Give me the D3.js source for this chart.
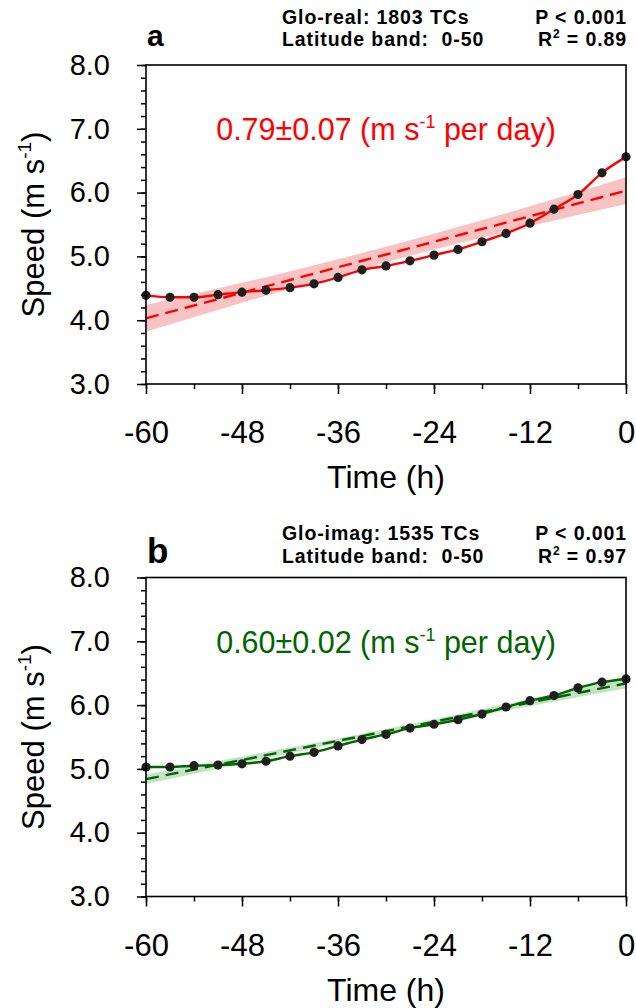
<!DOCTYPE html>
<html>
<head>
<meta charset="utf-8">
<script src="https://cdn.jsdelivr.net/npm/d3@7/dist/d3.min.js"></script>
<style>
  body { margin: 0; background: #fff; }
  svg { display: block; font-family: "Liberation Sans", Arial, Helvetica, sans-serif; }
  .hdr { font-weight: bold; font-size: 19.5px; letter-spacing: 0.9px; white-space: pre; }
</style>
</head>
<body>
<svg id="chart" width="636" height="1008"></svg>
<script>
// TC translation speed before landfall, two panels (real vs imaginary tracks)

const hours = [-60, -57, -54, -51, -48, -45, -42, -39, -36, -33, -30, -27, -24, -21, -18, -15, -12, -9, -6, -3, 0];
const realSpeed = [4.39, 4.36, 4.36, 4.40, 4.44, 4.47, 4.51, 4.57, 4.67, 4.79, 4.85, 4.93, 5.02, 5.11, 5.23, 5.36, 5.52, 5.74, 5.97, 6.31, 6.56];
const imagSpeed = [5.03, 5.03, 5.05, 5.06, 5.08, 5.12, 5.20, 5.26, 5.36, 5.46, 5.54, 5.64, 5.70, 5.77, 5.86, 5.97, 6.07, 6.15, 6.27, 6.36, 6.41];

// linear fit and its confidence band
const fitHours = [-60, -45, -30, -15, 0];
const realFit = [4.03, 4.53, 5.03, 5.53, 6.03];
const realFitLow = [3.82, 4.385, 4.91, 5.385, 5.82];
const realFitHigh = [4.24, 4.675, 5.15, 5.675, 6.24];
const imagFit = [4.84, 5.215, 5.59, 5.965, 6.34];
const imagFitLow = [4.765, 5.165, 5.555, 5.915, 6.265];
const imagFitHigh = [4.915, 5.265, 5.625, 6.015, 6.415];

const xTicks = [-60, -48, -36, -24, -12, 0];
const yTicks = [3, 4, 5, 6, 7, 8];

const panels = [
  {
    letter: 'a', letterSize: 30, top: 65, hdr1: 24, hdr2: 46,
    name: 'Glo-real: 1803 TCs', band: 'Latitude band:  0-50', p: 'P < 0.001', r2: '0.89',
    trend: '0.79\u00b10.07', speed: realSpeed, fit: realFit, low: realFitLow, high: realFitHigh,
    line: '#ff0000', fill: '#f9c3c3'
  },
  {
    letter: 'b', letterSize: 35, top: 577.5, hdr1: 540, hdr2: 563,
    name: 'Glo-imag: 1535 TCs', band: 'Latitude band:  0-50', p: 'P < 0.001', r2: '0.97',
    trend: '0.60\u00b10.02', speed: imagSpeed, fit: imagFit, low: imagFitLow, high: imagFitHigh,
    line: '#006400', fill: '#c4e3c4'
  }
];

const svg = d3.select('#chart');
const left = 146, right = 626, height = 319;

const x = d3.scaleLinear().domain([-60, 0]).range([left, right]);

panels.forEach(p => {
  const y = d3.scaleLinear().domain([3, 8]).range([p.top + height, p.top]);
  const g = svg.append('g');

  // confidence band
  g.append('path')
    .datum(fitHours.map((h, i) => ({ h, lo: p.low[i], hi: p.high[i] })))
    .attr('fill', p.fill)
    .attr('d', d3.area().curve(d3.curveMonotoneX)
      .x(d => x(d.h)).y0(d => y(d.lo)).y1(d => y(d.hi)));

  // regression line
  g.append('path')
    .datum(fitHours.map((h, i) => ({ h, v: p.fit[i] })))
    .attr('fill', 'none')
    .attr('stroke', p.line)
    .attr('stroke-width', 2.4)
    .attr('stroke-dasharray', '13,7')
    .attr('d', d3.line().x(d => x(d.h)).y(d => y(d.v)));

  // observed mean speed
  const pts = hours.map((h, i) => ({ h, v: p.speed[i] }));
  g.append('path')
    .datum(pts)
    .attr('fill', 'none')
    .attr('stroke', p.line)
    .attr('stroke-width', 2.4)
    .attr('d', d3.line().curve(d3.curveMonotoneX).x(d => x(d.h)).y(d => y(d.v)));

  g.selectAll('circle.pt')
    .data(pts)
    .enter().append('circle')
    .attr('class', 'pt')
    .attr('cx', d => x(d.h))
    .attr('cy', d => y(d.v))
    .attr('r', 4.6)
    .attr('fill', '#1e1e1e');

  // axes
  const yAxis = g.append('g')
    .attr('transform', `translate(${left},0)`)
    .call(d3.axisLeft(y).tickValues(yTicks).tickSize(9).tickPadding(27).tickFormat(d3.format('.1f')));
  g.append('g')
    .attr('transform', `translate(${left},0)`)
    .call(d3.axisLeft(y).tickValues(d3.range(3, 8.01, 0.2)).tickSize(5).tickFormat(''));
  const xAxis = g.append('g')
    .attr('transform', `translate(0,${p.top + height})`)
    .call(d3.axisBottom(x).tickValues(xTicks).tickSize(10).tickPadding(27).tickFormat(d => String(d)));
  g.append('g')
    .attr('transform', `translate(0,${p.top + height})`)
    .call(d3.axisBottom(x).tickValues(d3.range(-60, 0.1, 6)).tickSize(5).tickFormat(''));

  g.selectAll('.domain').remove();
  g.selectAll('.tick line').attr('stroke', '#000').attr('stroke-width', 1.5);
  yAxis.selectAll('text').attr('font-size', 29).attr('fill', '#000');
  xAxis.selectAll('text').attr('font-size', 31).attr('fill', '#000');

  g.append('rect')
    .attr('x', left).attr('y', p.top)
    .attr('width', right - left).attr('height', height)
    .attr('fill', 'none').attr('stroke', '#000').attr('stroke-width', 1.6);

  // axis titles
  const yl = g.append('text')
    .attr('transform', `translate(43.5,${p.top + height / 2}) rotate(-90)`)
    .attr('text-anchor', 'middle')
    .attr('font-size', 31);
  yl.append('tspan').text('Speed (m s');
  yl.append('tspan').attr('font-size', 19).attr('dy', -13).text('-1');
  yl.append('tspan').attr('dy', 13).text(')');

  g.append('text')
    .attr('x', (left + right) / 2)
    .attr('y', p.top + height + 104)
    .attr('text-anchor', 'middle')
    .attr('font-size', 32)
    .text('Time (h)');

  // trend annotation
  const tr = g.append('text')
    .attr('x', (left + right) / 2)
    .attr('y', p.top + 75)
    .attr('text-anchor', 'middle')
    .attr('font-size', 30.5)
    .attr('fill', p.line);
  tr.append('tspan').text(p.trend + ' (m s');
  tr.append('tspan').attr('font-size', 18).attr('dy', -12).text('-1');
  tr.append('tspan').attr('dy', 12).text(' per day)');

  // header
  g.append('text')
    .attr('x', 147).attr('y', p.hdr2)
    .attr('font-weight', 'bold')
    .attr('font-size', p.letterSize)
    .text(p.letter);
  g.append('text').attr('class', 'hdr').attr('x', 282).attr('y', p.hdr1).text(p.name);
  g.append('text').attr('class', 'hdr').attr('x', 282).attr('y', p.hdr2).text(p.band);
  g.append('text').attr('class', 'hdr').attr('x', 627).attr('y', p.hdr1)
    .attr('text-anchor', 'end').text(p.p);
  const r2 = g.append('text').attr('class', 'hdr').attr('x', 627).attr('y', p.hdr2)
    .attr('text-anchor', 'end');
  r2.append('tspan').text('R');
  r2.append('tspan').attr('font-size', 12).attr('dy', -8).text('2');
  r2.append('tspan').attr('dy', 8).text(' = ' + p.r2);
});
</script>
</body>
</html>
